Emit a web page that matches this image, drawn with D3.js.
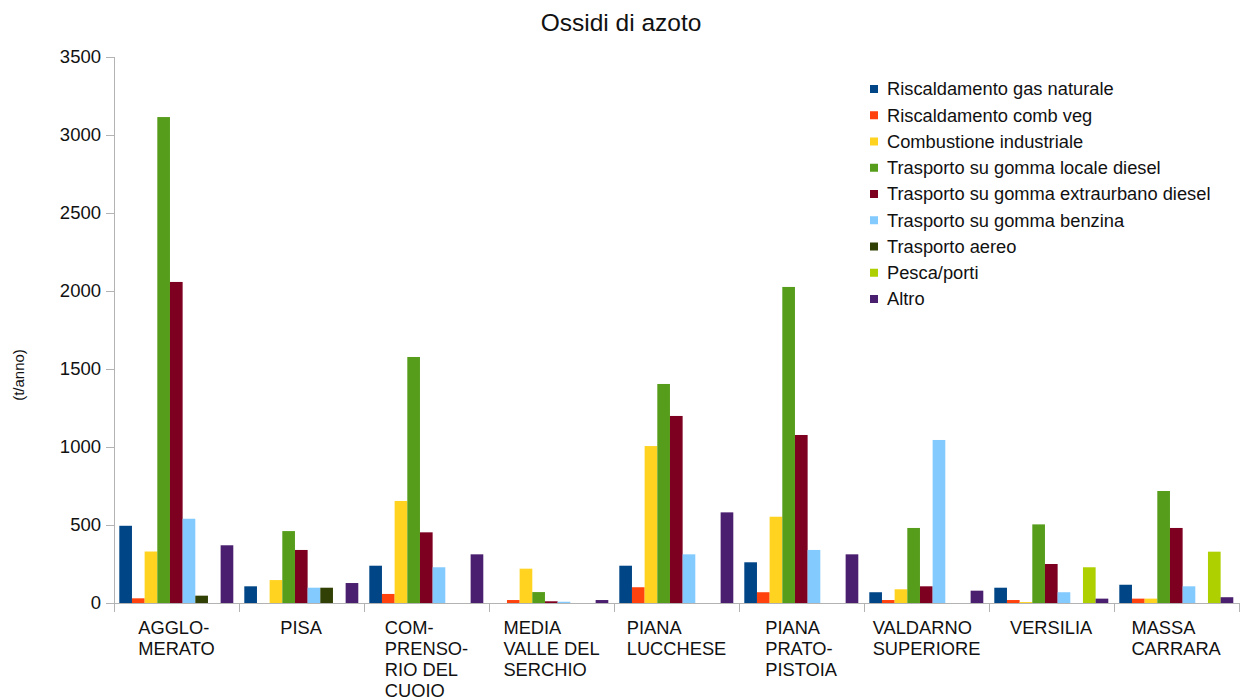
<!DOCTYPE html>
<html><head><meta charset="utf-8">
<script src="https://cdn.jsdelivr.net/npm/d3@7"></script>
<style>body{margin:0;background:#fff}svg{display:block}text{font-family:"Liberation Sans",Arial,sans-serif}</style>
</head><body><svg id="c" width="1240" height="700"></svg>
<script>
const categories = [["AGGLO-","MERATO"],["PISA"],["COM-","PRENSO-","RIO DEL","CUOIO"],["MEDIA","VALLE DEL","SERCHIO"],["PIANA","LUCCHESE"],["PIANA","PRATO-","PISTOIA"],["VALDARNO","SUPERIORE"],["VERSILIA"],["MASSA","CARRARA"]];
const seriesNames = ["Riscaldamento gas naturale","Riscaldamento comb veg","Combustione industriale","Trasporto su gomma locale diesel","Trasporto su gomma extraurbano diesel","Trasporto su gomma benzina","Trasporto aereo","Pesca/porti","Altro"];
const seriesColors = ["#004586","#ff420e","#ffd320","#579d1c","#7e0021","#83caff","#314004","#aecf00","#4b1f6f"];
const gasNaturale   = [495, 107, 239, 0, 239, 261, 69, 98, 117];
const combVeg       = [30, 0, 58, 19, 101, 69, 19, 19, 28];
const industriale   = [330, 147, 654, 220, 1006, 553, 88, 6, 28];
const localeDiesel  = [3115, 461, 1577, 70, 1404, 2026, 481, 504, 718];
const extraDiesel   = [2058, 340, 453, 11, 1199, 1077, 107, 250, 481];
const benzina       = [540, 98, 229, 8, 312, 340, 1045, 69, 107];
const aereo         = [47, 98, 0, 0, 0, 0, 0, 0, 0];
const pesca         = [0, 0, 0, 0, 0, 0, 0, 229, 329];
const altro         = [370, 128, 312, 19, 581, 312, 79, 28, 37];
const yTicks = [0,500,1000,1500,2000,2500,3000,3500];
const title = "Ossidi di azoto";
const yLabel = "(t/anno)";

(function(){
const seriesValues = [gasNaturale, combVeg, industriale, localeDiesel, extraDiesel, benzina, aereo, pesca, altro];
const svg = d3.select("#c");
const mLeft = 114, mRight = 1239, mTop = 57, mBottom = 603;
const x0 = d3.scaleBand().domain(d3.range(categories.length)).range([mLeft, mRight]).padding(0);
const x1 = d3.scaleBand().domain(d3.range(seriesNames.length)).range([x0.bandwidth()*0.0424, x0.bandwidth()*0.9544]).padding(0);
const y = d3.scaleLinear().domain([0,3500]).range([mBottom, mTop]);
const axisColor = "#b3b3b3";
const txt = "#111";

svg.append("text").attr("x", 621).attr("y", 30.5).attr("text-anchor","middle")
  .attr("font-size", 24.5).attr("fill",txt).text(title);
svg.append("text").attr("transform","translate(24,375) rotate(-90)").attr("text-anchor","middle")
  .attr("font-size", 15).attr("fill",txt).text(yLabel);

categories.forEach((c, i) => {
  const g = svg.append("g").attr("transform", `translate(${x0(i)},0)`);
  seriesValues.forEach((vals, s) => {
    const v = vals[i];
    if (!v) return;
    g.append("rect").attr("x", x1(s)).attr("width", x1.bandwidth())
      .attr("y", y(v)).attr("height", y(0) - y(v)).attr("fill", seriesColors[s]);
  });
});

const yAxis = d3.axisLeft(y).tickValues(yTicks).tickFormat(d3.format("d")).tickSize(8).tickSizeOuter(0).tickPadding(5);
const ya = svg.append("g").attr("transform", `translate(${mLeft},0)`).call(yAxis);
ya.selectAll("path,line").attr("stroke", axisColor);
ya.selectAll("text").attr("font-size", 18.5).attr("fill",txt).attr("font-family",'"Liberation Sans",Arial,sans-serif');
ya.select(".domain").attr("d", `M0.5,${mTop}V${mBottom}`);

const xa = svg.append("g");
xa.append("line").attr("x1", mLeft).attr("x2", mRight).attr("y1", mBottom+0.5).attr("y2", mBottom+0.5).attr("stroke", axisColor);
d3.range(categories.length + 1).forEach(i => {
  const xx = i < categories.length ? x0(i) : mRight;
  xa.append("line").attr("x1", xx+0.5).attr("x2", xx+0.5).attr("y1", mBottom).attr("y2", mBottom+9).attr("stroke", axisColor);
});
categories.forEach((lines, i) => {
  const t = xa.append("text").attr("font-size", 18.3).attr("fill",txt);
  lines.forEach((ln, k) => {
    t.append("tspan").attr("x", 0).attr("y", 634 + k*21).text(ln);
  });
  const bb = t.node().getBBox();
  const cx = x0(i) + x0.bandwidth()/2;
  t.attr("transform", `translate(${cx - bb.width/2},0)`);
});

const lg = svg.append("g");
seriesNames.forEach((n, s) => {
  const yy = 89 + s*26.25;
  lg.append("rect").attr("x", 870).attr("y", yy-4).attr("width", 8).attr("height", 8).attr("fill", seriesColors[s]);
  lg.append("text").attr("x", 887).attr("y", yy+6.4).attr("font-size", 18.3).attr("fill",txt).text(n);
});
})();
</script></body></html>
